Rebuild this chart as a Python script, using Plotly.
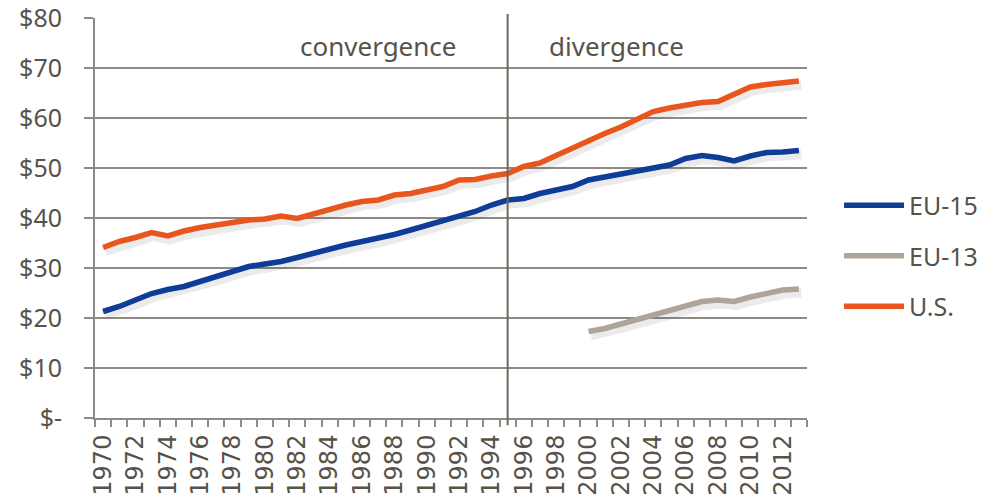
import plotly.graph_objects as go

years = list(range(1970, 2014))

eu15 = [21.3, 22.3, 23.6, 24.9, 25.7, 26.3, 27.3, 28.3, 29.3, 30.3,
        30.8, 31.3, 32.1, 33.0, 33.9, 34.6, 35.3, 35.9, 36.7, 37.6,
        38.5, 39.4, 40.3, 41.3, 42.6, 43.6, 43.9, 44.9, 45.6, 46.3,
        47.6, 48.2, 48.9, 49.5, 50.0, 50.6, 51.9, 52.5, 52.1, 51.4,
        52.4, 53.1, 53.2, 53.5]

eu13_years = list(range(2000, 2014))
eu13 = [17.3, 17.9, 18.8, 19.7, 20.6, 21.5, 22.6, 23.3, 23.6, 23.3,
        24.2, 25.0, 25.6, 25.8]

us = [34.1, 35.3, 36.1, 37.1, 36.4, 37.4, 38.1, 38.6, 39.1, 39.6,
      39.8, 40.4, 39.9, 40.8, 41.8, 42.6, 43.3, 43.6, 44.6, 44.9,
      45.6, 46.3, 47.6, 47.7, 48.4, 48.9, 50.3, 51.0, 52.5, 54.0,
      55.6, 56.9, 58.2, 59.9, 61.3, 62.0, 62.6, 63.1, 63.3, 64.8,
      66.2, 66.7, 67.1, 67.4]

y_ticks = [0, 10, 20, 30, 40, 50, 60, 70, 80]
y_labels = ["$-", "$10", "$20", "$30", "$40", "$50", "$60", "$70", "$80"]
x_ticks = years[::2]
x_labels = [str(y) for y in x_ticks]
split_year = 1995

BLUE = "#0f3c96"
GRAY = "#aea498"
ORANGE = "#e8561e"
TEXT = "#57534a"
GRID = "#8e8b85"

fig = go.Figure()

series = [
    ("EU-15", years, eu15, BLUE),
    ("EU-13", eu13_years, eu13, GRAY),
    ("U.S.", years, us, ORANGE),
]

# soft drop shadows under each line
for name, xs, ys, color in series:
    fig.add_trace(go.Scatter(
        x=[x + 0.15 for x in xs], y=[v - 0.8 for v in ys],
        mode="lines", line=dict(color="rgba(60,60,60,0.10)", width=9),
        hoverinfo="skip", showlegend=False,
    ))

for name, xs, ys, color in series:
    fig.add_trace(go.Scatter(
        x=xs, y=ys, name=name, legendgroup=name, mode="lines",
        line=dict(color=color, width=5.5),
    ))

fig.add_shape(
    type="line", xref="x", yref="paper",
    x0=split_year, x1=split_year, y0=-0.018, y1=1.01,
    line=dict(color="#6e675e", width=2),
)

fig.add_annotation(x=1987.05, y=74.5, text="convergence", showarrow=False,
                   font=dict(size=26, color=TEXT, family="Noto Sans"))
fig.add_annotation(x=2001.7, y=74.5, text="divergence", showarrow=False,
                   font=dict(size=26, color=TEXT, family="Noto Sans"))

boundaries = [y - 0.5 for y in years] + [years[-1] + 0.5]

fig.update_layout(
    width=995, height=502,
    margin=dict(l=95, r=188, t=18, b=84, pad=0),
    plot_bgcolor="white", paper_bgcolor="white",
    legend=dict(
        x=1.045, y=0.405, xanchor="left", yanchor="middle",
        font=dict(size=25, color=TEXT, family="Noto Sans"),
        tracegroupgap=15, itemwidth=60,
    ),
    xaxis=dict(
        range=[years[0] - 0.5, years[-1] + 0.5],
        tickmode="array", tickvals=x_ticks, ticktext=x_labels,
        tickangle=-90, ticks="",
        tickfont=dict(size=24, color=TEXT, family="DejaVu Sans"),
        showgrid=False, showline=True, linecolor=GRID, linewidth=2,
        zeroline=False, ticklabelstandoff=5, automargin=False,
        ticklabeloverflow="allow",
        minor=dict(tickmode="array", tickvals=boundaries, ticks="outside",
                   ticklen=7, tickwidth=2, tickcolor=GRID, showgrid=False),
    ),
    yaxis=dict(
        range=[0, 80], tickmode="array", tickvals=y_ticks, ticktext=y_labels,
        tickfont=dict(size=25, color=TEXT, family="Noto Sans"),
        ticks="outside", ticklen=9, tickwidth=2, tickcolor=GRID,
        showgrid=True, gridcolor=GRID, gridwidth=2,
        showline=True, linecolor=GRID, linewidth=2, zeroline=False,
        ticklabelstandoff=17, automargin=False, ticklabeloverflow="allow",
    ),
)

fig.write_html("out.html", config={"displayModeBar": False},
               post_script="document.body.style.margin='0';")
